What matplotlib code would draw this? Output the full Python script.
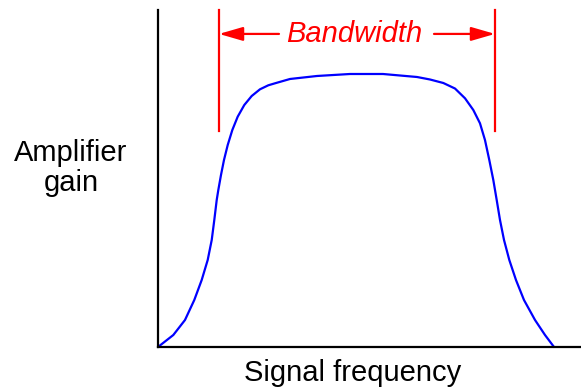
import numpy as np
import matplotlib
matplotlib.use("Agg")
import matplotlib.pyplot as plt

# gain curve (frequency and gain in % of the axes)
freq = [0.0, 3.62, 6.38, 8.58, 10.33, 11.75, 12.70, 13.31, 13.88, 14.26,
        14.89, 15.60, 16.48, 17.57, 18.84, 20.40, 22.15, 24.11, 26.08, 27.66,
        31.21, 37.59, 45.39, 53.19, 61.23, 64.30, 67.45, 70.21, 72.58, 74.54,
        76.12, 77.30, 78.32, 79.27, 80.07, 80.85, 81.80, 83.05, 84.63, 86.52,
        89.13, 91.49, 93.62]
gain = [0.0, 3.56, 8.01, 13.95, 19.88, 25.82, 31.75, 37.69, 43.62, 46.59,
        51.04, 55.49, 59.94, 64.39, 68.34, 71.81, 74.48, 76.47, 77.66, 78.25,
        79.53, 80.42, 81.01, 81.01, 80.12, 79.38, 78.34, 76.70, 73.80, 70.33,
        66.38, 61.42, 55.49, 49.55, 43.62, 37.69, 31.75, 25.82, 19.88, 13.95,
        8.01, 3.56, 0.0]

# bandwidth markers
bw_edges = [14.42, 79.67]
bw_marker_bottom = 64.1
bw_arrow_gain = 92.9
bw_arrow_tails = [28.6, 65.25]
bw_label = "Bandwidth"

fig = plt.figure(figsize=(5.81, 3.90), dpi=100)
ax = fig.add_axes([158 / 581, 43 / 390, 423 / 581, 337 / 390])
ax.set_xlim(0, 100)
ax.set_ylim(0, 100)

ax.plot(freq, gain, color="#0000ff", lw=1.6, solid_joinstyle="round",
        solid_capstyle="round", clip_on=False)

for x in bw_edges:
    ax.plot([x, x], [bw_marker_bottom, 100], color="#ff0000", lw=1.6, clip_on=False)
for tail, tip in zip(bw_arrow_tails, bw_edges):
    ax.annotate("", xy=(tip, bw_arrow_gain), xytext=(tail, bw_arrow_gain),
                arrowprops=dict(arrowstyle="-|>,head_length=1.45,head_width=0.42",
                                mutation_scale=10, color="#ff0000", lw=1.6,
                                shrinkA=0, shrinkB=0))
ax.text(46.3, bw_arrow_gain, bw_label, color="#ff0000", fontsize=21,
        style="italic", family="Liberation Sans", ha="center", va="center")

for side in ["top", "right"]:
    ax.spines[side].set_visible(False)
for side in ["left", "bottom"]:
    ax.spines[side].set_linewidth(1.6)
    ax.spines[side].set_color("black")
ax.set_xticks([])
ax.set_yticks([])

fig.text(353 / 581, 1 - 373 / 390, "Signal frequency", fontsize=21,
         family="Liberation Sans", ha="center", va="center")
fig.text(71 / 581, 1 - 168 / 390, "Amplifier\ngain", fontsize=21,
         family="Liberation Sans", ha="center", va="center", linespacing=1.05)

fig.savefig("out.png", dpi=100)
